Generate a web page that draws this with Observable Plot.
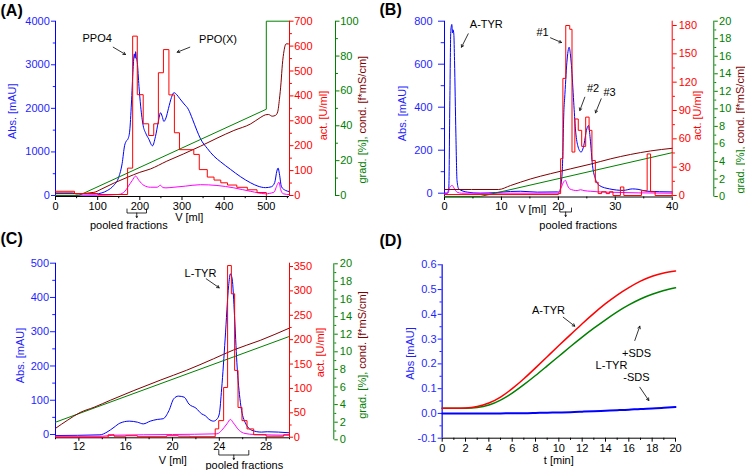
<!DOCTYPE html>
<html><head><meta charset="utf-8">
<script src="https://cdn.jsdelivr.net/npm/d3@7"></script>
<script src="https://cdn.jsdelivr.net/npm/@observablehq/plot@0.6"></script>
<style>
body{margin:0;background:#fff;}
#fig{position:relative;width:745px;height:470px;overflow:hidden;background:#fff;}
#fig svg{position:absolute;left:0;top:0;}
</style></head><body><div id="fig"></div>
<script>
const W = 745, H = 470;
const FONT = '"Liberation Sans", Arial, sans-serif';
const BLUE = "#0000ff", BLUE_T = "#1f1fff", RED = "#ff0000", GREEN = "#008000", BROWN = "#800000", PINK = "#ff00ff";

// ---------------- Panel A data ----------------
const aBlueX = [0,40,48,95,110,123,138,150,158,164,168,172,176,180,184,187,189,190,192,194,198,202,208,214,221,230,237,244,249,253,257,262,268,275,281,287,295,305,315,325,335,344,360,376,392,415,439,463,480,498,512,520,525,528,531,536,545,555];
const aBlueY = [55,55,40,35,60,115,230,420,730,1150,1250,1300,1480,2100,2900,3250,3150,3300,3150,3050,2500,2050,1600,1430,1300,1140,1350,1700,1900,1820,1700,1780,2000,2250,2360,2320,2220,2100,1980,1750,1500,1300,1080,900,770,600,430,290,215,180,200,300,560,630,500,200,120,90];
const aPinkX = [0,100,150,165,172,182,190,198,210,225,241,249,255,262,281,308,344,383,423,463,498,518,526,530,534,540,555];
const aPinkY = [5,5,25,100,200,345,445,345,230,190,190,235,180,175,190,215,248,230,176,95,40,75,250,306,140,40,20];
const aActEdges = [0,45,100,171,183,194,208,221,233,244,256,269,282,294,328,341,360,376,392,408,430,455,478,500,501];
const aActVals  = [17,8,4,110,640,405,288,241,288,493,586,404,252,184,165,104,74,62,51,42,33,23,12,0];
const aGradX = [0,55,500,500,555];
const aGradY = [0,0,49.5,100,100];
const aCondX = [0,45,50,91,110,140,171,200,225,264,304,344,383,423,463,487,498,505,514,522,527,531,535,538,542,547,552,555];
const aCondY = [1.3,1.3,1.0,1.8,3.8,7.3,10.5,13.3,15.2,19.7,23.9,28.3,32.9,37.3,41.1,44.9,46.3,46.5,45.5,46,48,55,65,75,83,87,87,86.5];
const aTicksX = [0,100,200,300,400,500], aMinorX = [50,150,250,350,450,550];
const aTicksAbs = [0,1000,2000,3000,4000], aMinorAbs = [500,1500,2500,3500];
const aTicksAct = [0,100,200,300,400,500,600,700], aMinorAct = [50,150,250,350,450,550,650];
const aTicksGrad = [0,20,40,60,80,100], aMinorGrad = [10,30,50,70,90];

// ---------------- Panel B data ----------------
const bBlueX = [0,0.5,0.76,0.94,1.11,1.29,1.4,1.5,1.64,1.76,2.0,2.2,2.5,4,6.3,9,11.6,13.4,16.3,19.8,20.2,20.4,20.7,21.0,21.1,21.5,21.7,21.9,22.1,22.3,22.7,23.0,23.4,24.0,24.4,25.0,25.3,25.6,26.0,26.5,27.2,29,31.4,33,34,35.6,40];
const bBlueY = [0,0,28,430,757,785,745,760,740,617,276,59,20,5,0,3,8,9,5,6,5,28,113,400,439,609,660,679,650,594,423,299,222,191,214,299,315,253,129,67,36,20,13,20,18,9,6];
const bPinkX = [0,0.6,0.94,1.35,1.76,2.2,3,20,20.4,21.0,21.25,21.5,22,23.3,23.9,24.5,25.7,28,40];
const bPinkY = [0,0,28,36,20,5,0,0,20,55,60,43,20,12,16,12,9,5,0];
const bActEdges = [0,20.0,20.4,20.8,21.3,22.0,22.4,22.9,23.5,24.1,24.8,25.4,25.9,26.5,27.0,27.6,28.4,29.0,29.6,30.9,31.5,34.6,35.6,36.2,37.0,40];
const bActVals  = [1,2,39,124,180,176,46,81,69,52,83,69,37,14,2,4,2,4,0,9,0,5,44,4,0];
const bGradX = [0,6.3,40], bGradY = [0,0,5.0];
const bCondX = [0,9.5,11.6,15.1,18.6,22.1,25.7,29.2,32.7,36.2,40];
const bCondY = [0.8,0.8,1.25,2.0,2.6,3.15,3.7,4.3,4.8,5.2,5.5];
const bTicksX = [0,10,20,30,40], bMinorX = [5,15,25,35];
const bTicksAbs = [0,200,400,600,800], bMinorAbs = [100,300,500,700];
const bTicksAct = [0,30,60,90,120,150,180], bMinorAct = [15,45,75,105,135,165];
const bTicksGrad = [0,2,4,6,8,10,12,14,16,18,20], bMinorGrad = [1,3,5,7,9,11,13,15,17,19];

// ---------------- Panel C data ----------------
const cBlueX = [10,13.8,14.4,15,15.5,16.3,17,17.5,18.1,18.7,19.2,19.7,20.1,20.5,21,21.4,22,22.5,22.8,23.1,23.5,23.8,24.0,24.2,24.5,24.8,24.95,25.1,25.3,25.5,25.8,26.2,26.8,27.6,28.1,30];
const cBlueY = [-3,-1,7,21,33,39,36,31,39,44,46,70,104,112,109,89,77,60,55,45,39,45,60,133,279,435,469,454,347,211,94,36,12,7,8,5];
const cPinkX = [10,14,15,20,23.8,24.2,24.65,24.95,25.2,25.7,26.2,27,30];
const cPinkY = [-5,-5,-2,0,2,12,31,44,34,12,3,0,-2];
const cActEdges = [10,14.5,15,16,17,19.5,20.5,21.5,23.65,23.95,24.37,24.71,25.03,25.31,25.6,25.94,26.37,26.94,28,29.5,30];
const cActVals  = [0,5,2,3,1,3,2,1,17,34,102,352,294,137,61,34,17,5,2,5];
const cGradX = [10,30], cGradY = [2.0,11.75];
const cCondX = [10,11,12.1,13.3,14.7,16.7,19,21.2,23.5,25.2,27.5,30];
const cCondY = [1.3,2.2,3.1,3.7,4.5,5.6,6.8,7.9,9.2,10.2,11.3,12.7];
const cTicksX = [12,16,20,24,28], cMinorX = [10,14,18,22,26,30];
const cTicksAbs = [0,100,200,300,400,500], cMinorAbs = [50,150,250,350,450];
const cTicksAct = [0,50,100,150,200,250,300,350], cMinorAct = [25,75,125,175,225,275,325];
const cTicksGrad = [0,2,4,6,8,10,12,14,16,18,20], cMinorGrad = [1,3,5,7,9,11,13,15,17,19];

// ---------------- Panel D data ----------------
const dT = [0,1,2,3,4,5,6,7,8,9,10,11,12,13,14,15,16,17,18,19,20];
const dATyr = [0.021,0.021,0.022,0.028,0.042,0.066,0.1,0.14,0.184,0.229,0.274,0.318,0.362,0.404,0.443,0.478,0.508,0.534,0.554,0.567,0.575];
const dLTyrSDS = [0.021,0.021,0.021,0.024,0.034,0.054,0.082,0.116,0.153,0.192,0.231,0.27,0.308,0.344,0.378,0.41,0.438,0.462,0.481,0.496,0.507];
const dLTyr = [0,0,0,0,0,0,0.001,0.001,0.002,0.003,0.004,0.005,0.007,0.009,0.011,0.013,0.015,0.018,0.020,0.023,0.026];
const dTicksX = [0,2,4,6,8,10,12,14,16,18,20], dMinorX = [1,3,5,7,9,11,13,15,17,19];
const dTicksY = [-0.1,0,0.1,0.2,0.3,0.4,0.5,0.6], dMinorY = [-0.05,0.05,0.15,0.25,0.35,0.45,0.55];

// ---------------- helpers ----------------
const pts = (xs, ys) => xs.map((x, i) => ({x, y: ys[i]}));
const steps = (edges, vals) => edges.map((x, i) => ({x, y: vals[Math.min(i, vals.length - 1)]}));
const none = () => "";
const plain = d => String(d);

function layer(frame, xdom, ydom, marks) {
  const [l, t, r, b] = frame;
  return Plot.plot({
    width: W, height: H,
    marginLeft: l, marginTop: t, marginRight: W - r, marginBottom: H - b,
    x: {domain: xdom, axis: null}, y: {domain: ydom, axis: null},
    style: {background: "transparent", fontFamily: FONT, fontSize: "11px", overflow: "visible"},
    marks
  });
}
function yAx(anchor, major, minor, color, size, pad, fmt = plain) {
  return [
    Plot.axisY(major, {anchor, tickSize: size, tickPadding: pad, color, label: null, tickFormat: fmt}),
    Plot.axisY(minor, {anchor, tickSize: size * 0.55, color, label: null, tickFormat: none})
  ];
}
function xAx(major, minor, size, pad) {
  return [
    Plot.axisX(major, {anchor: "bottom", tickSize: size, tickPadding: pad, color: "black", label: null, tickFormat: plain}),
    Plot.axisX(minor, {anchor: "bottom", tickSize: size * 0.55, color: "black", label: null, tickFormat: none})
  ];
}
const ln = (data, stroke, w = 1, curve = "monotone-x") => Plot.line(data, {x: "x", y: "y", stroke, strokeWidth: w, curve});
const stp = (data, stroke) => Plot.line(data, {x: "x", y: "y", stroke, strokeWidth: 1, curve: "step-after"});

const layers = [];

// ---------------- Panel A ----------------
{
  const F = [55, 20.7, 289, 196], X = [0, 555];
  layers.push(layer(F, X, [-23, 4000], [
    Plot.ruleX([X[0]], {stroke: BLUE}),
    ...yAx("left", aTicksAbs, aMinorAbs, BLUE_T, 4, 1.7),
    Plot.ruleY([-23], {stroke: "black"}),
    ...xAx(aTicksX, aMinorX, 4, 1.5),
    ln(pts(aBlueX, aBlueY), BLUE),
    ln(pts(aPinkX, aPinkY), PINK)
  ]));
  layers.push(layer(F, X, [-0.57, 100], [
    Plot.line(pts(aGradX, aGradY), {x: "x", y: "y", stroke: GREEN, strokeWidth: 1}),
    ln(pts(aCondX, aCondY), BROWN)
  ]));
  layers.push(layer(F, X, [-4, 700], [
    Plot.ruleX([X[1]], {stroke: RED}),
    ...yAx("right", aTicksAct, aMinorAct, RED, 3.5, 1.2),
    stp(steps(aActEdges, aActVals), RED)
  ]));
  layers.push(layer([55, 20.7, 335, 196], [0, 1], [-0.57, 100], [
    Plot.ruleX([1], {stroke: GREEN}),
    ...yAx("right", aTicksGrad, aMinorGrad, GREEN, 3.5, 1.2)
  ]));
}

// ---------------- Panel B ----------------
{
  const F = [444, 20.7, 671.7, 196.5], X = [0, 40];
  layers.push(layer(F, X, [-17.7, 800], [
    Plot.ruleX([X[0]], {stroke: BLUE}),
    ...yAx("left", bTicksAbs, bMinorAbs, BLUE_T, 6, 6),
    Plot.ruleY([-17.7], {stroke: "black"}),
    ...xAx(bTicksX, bMinorX, 3.5, 1.5),
    ln(pts(bBlueX, bBlueY), BLUE),
    ln(pts(bPinkX, bPinkY), PINK)
  ]));
  layers.push(layer(F, X, [-0.057, 20], [
    Plot.line(pts(bGradX, bGradY), {x: "x", y: "y", stroke: GREEN, strokeWidth: 1}),
    ln(pts(bCondX, bCondY), BROWN)
  ]));
  layers.push(layer(F, X, [-1.59, 184.55], [
    Plot.ruleX([X[1]], {stroke: RED}),
    ...yAx("right", bTicksAct, bMinorAct, RED, 4, 2.5),
    stp(steps(bActEdges, bActVals), RED)
  ]));
  layers.push(layer([444, 20.7, 713.3, 196.5], [0, 1], [-0.057, 20], [
    Plot.ruleX([1], {stroke: GREEN}),
    ...yAx("right", bTicksGrad, bMinorGrad, GREEN, 3.5, 1.8)
  ]));
}

// ---------------- Panel C ----------------
{
  const F = [55, 262.7, 289, 437.3], X = [10, 30];
  layers.push(layer(F, X, [-9.63, 500], [
    Plot.ruleX([X[0]], {stroke: BLUE}),
    ...yAx("left", cTicksAbs, cMinorAbs, BLUE_T, 5, 1.5),
    Plot.ruleY([-9.63], {stroke: "black"}),
    ...xAx(cTicksX, cMinorX, 3.5, 1),
    ln(pts(cBlueX, cBlueY), BLUE),
    ln(pts(cPinkX, cPinkY), PINK)
  ]));
  layers.push(layer([55, 263.3, 289, 439.3], X, [0, 20], [
    Plot.line(pts(cGradX, cGradY), {x: "x", y: "y", stroke: GREEN, strokeWidth: 1}),
    ln(pts(cCondX, cCondY), BROWN)
  ]));
  layers.push(layer(F, X, [-1.23, 356.8], [
    Plot.ruleX([X[1]], {stroke: RED}),
    ...yAx("right", cTicksAct, cMinorAct, RED, 3, 1.2),
    stp(steps(cActEdges, cActVals), RED)
  ]));
  layers.push(layer([55, 263.3, 333.3, 439.3], [0, 1], [0, 20], [
    Plot.ruleX([1], {stroke: GREEN}),
    ...yAx("right", cTicksGrad, cMinorGrad, GREEN, 3.5, 2.5)
  ]));
}

// ---------------- Panel D ----------------
{
  const F = [441.7, 264.3, 675, 437.7], X = [0, 20];
  layers.push(layer(F, X, [-0.1, 0.6], [
    Plot.ruleY([-0.1], {stroke: "black"}),
    ...xAx(dTicksX, dMinorX, 4, 2),
    Plot.ruleX([X[0]], {stroke: "#4040ff", strokeWidth: 1.6}),
    ...yAx("left", dTicksY, dMinorY, BLUE_T, 4, 1.7, d => d.toFixed(1)),
    ln(pts(dT, dLTyr), BLUE, 2, "natural"),
    ln(pts(dT, dLTyrSDS), GREEN, 1.5, "natural"),
    ln(pts(dT, dATyr), RED, 1.5, "natural")
  ]));
}

// ---------------- Texts and annotations (page pixel layout) ----------------
const panelLetters = [
  {t: "(A)", x: 0, y: 10}, {t: "(B)", x: 379, y: 9}, {t: "(C)", x: 0, y: 238}, {t: "(D)", x: 379, y: 240}
];
const yTitles = [
  {t: "Abs. [mAU]", x: 12, y: 110.7, c: BLUE_T}, {t: "act. [U/ml]", x: 323, y: 115, c: RED},
  {t: "Abs. [mAU]", x: 401.7, y: 113, c: BLUE_T}, {t: "act. [U/ml]", x: 697, y: 115, c: RED},
  {t: "Abs. [mAU]", x: 20, y: 355, c: BLUE_T}, {t: "act. [U/ml]", x: 320, y: 352, c: RED},
  {t: "Abs [mAU]", x: 410, y: 353, c: BLUE_T}
];
const ySplitTitles = [
  {t: "grad. [%],", x: 361.7, y: 183, c: GREEN}, {t: "cond. [f*mS/cm]", x: 361.7, y: 133, c: BROWN},
  {t: "grad. [%],", x: 740, y: 193, c: GREEN}, {t: "cond. [f*mS/cm]", x: 740, y: 143, c: BROWN},
  {t: "grad. [%],", x: 361.7, y: 418.3, c: GREEN}, {t: "cond. [f*mS/cm]", x: 361.7, y: 368.3, c: BROWN}
];
const xTitles = [
  {t: "V [ml]", x: 188.7, y: 216.7}, {t: "V [ml]", x: 531.7, y: 209.3},
  {t: "V [ml]", x: 172.3, y: 460}, {t: "t [min]", x: 558.3, y: 460},
  {t: "pooled fractions", x: 128.3, y: 225}, {t: "pooled fractions", x: 577.7, y: 225},
  {t: "pooled fractions", x: 243.8, y: 465}
];
const notes = [
  {t: "PPO4", x: 96.7, y: 37.5}, {t: "PPO(X)", x: 217.5, y: 39},
  {t: "A-TYR", x: 485.8, y: 24}, {t: "#1", x: 542, y: 31.7}, {t: "#2", x: 592.5, y: 88.3}, {t: "#3", x: 609, y: 91.7},
  {t: "L-TYR", x: 200, y: 273.3},
  {t: "A-TYR", x: 548, y: 310}, {t: "+SDS", x: 636, y: 353.3}, {t: "L-TYR", x: 611, y: 365}, {t: "-SDS", x: 636, y: 376.7}
];
const arrows = [
  {x1: 112.7, y1: 46.7, x2: 125, y2: 54}, {x1: 189.3, y1: 46.7, x2: 176.7, y2: 51.7},
  {x1: 467.7, y1: 33.3, x2: 461, y2: 46.7}, {x1: 550, y1: 37.3, x2: 561, y2: 42},
  {x1: 584.3, y1: 96.7, x2: 579.3, y2: 110}, {x1: 600.7, y1: 98.3, x2: 595, y2: 112.3},
  {x1: 205.7, y1: 278.3, x2: 218.7, y2: 287.3},
  {x1: 562.7, y1: 316.7, x2: 574.3, y2: 325.7}, {x1: 634.3, y1: 340, x2: 639.3, y2: 325.7},
  {x1: 639.3, y1: 386.7, x2: 648.3, y2: 400}
];
const brackets = [
  {id: "A", x1: 126.5, x2: 146, top: 208.5, bot: 212.5, tip: 217},
  {id: "B", x1: 559.3, x2: 571, top: 207.5, bot: 211.5, tip: 216},
  {id: "C", x1: 218.3, x2: 248.3, top: 450, bot: 454.5, tip: 459}
];
const bracketPts = brackets.flatMap(b => [
  {id: b.id, x: b.x1, y: b.top}, {id: b.id, x: b.x1, y: b.bot}, {id: b.id, x: b.x2, y: b.bot}, {id: b.id, x: b.x2, y: b.top}
]);
const bracketTips = brackets.map(b => ({x1: (b.x1 + b.x2) / 2, y1: b.bot, x2: (b.x1 + b.x2) / 2, y2: b.tip}));

layers.push(Plot.plot({
  width: W, height: H, margin: 0,
  x: {domain: [0, W], range: [0, W], axis: null},
  y: {domain: [0, H], range: [0, H], axis: null},
  color: {type: "identity"},
  style: {background: "transparent", fontFamily: FONT, fontSize: "11px", overflow: "visible"},
  marks: [
    Plot.text(panelLetters, {x: "x", y: "y", text: "t", textAnchor: "start", fontSize: 16, fontWeight: "bold", fill: "black"}),
    Plot.text(yTitles, {x: "x", y: "y", text: "t", fill: "c", rotate: -90, fontSize: 11}),
    Plot.text(ySplitTitles, {x: "x", y: "y", text: "t", fill: "c", rotate: -90, textAnchor: "start", fontSize: 11}),
    Plot.text(xTitles, {x: "x", y: "y", text: "t", fill: "black", fontSize: 11}),
    Plot.text(notes, {x: "x", y: "y", text: "t", fill: "black", fontSize: 11}),
    Plot.arrow(arrows, {x1: "x1", y1: "y1", x2: "x2", y2: "y2", stroke: "black", strokeWidth: 0.8, headLength: 5}),
    Plot.line(bracketPts, {x: "x", y: "y", z: "id", stroke: "black", strokeWidth: 0.8}),
    Plot.arrow(bracketTips, {x1: "x1", y1: "y1", x2: "x2", y2: "y2", stroke: "black", strokeWidth: 0.8, headLength: 3})
  ]
}));

const fig = document.getElementById("fig");
layers.forEach(s => fig.appendChild(s));
</script></body></html>
